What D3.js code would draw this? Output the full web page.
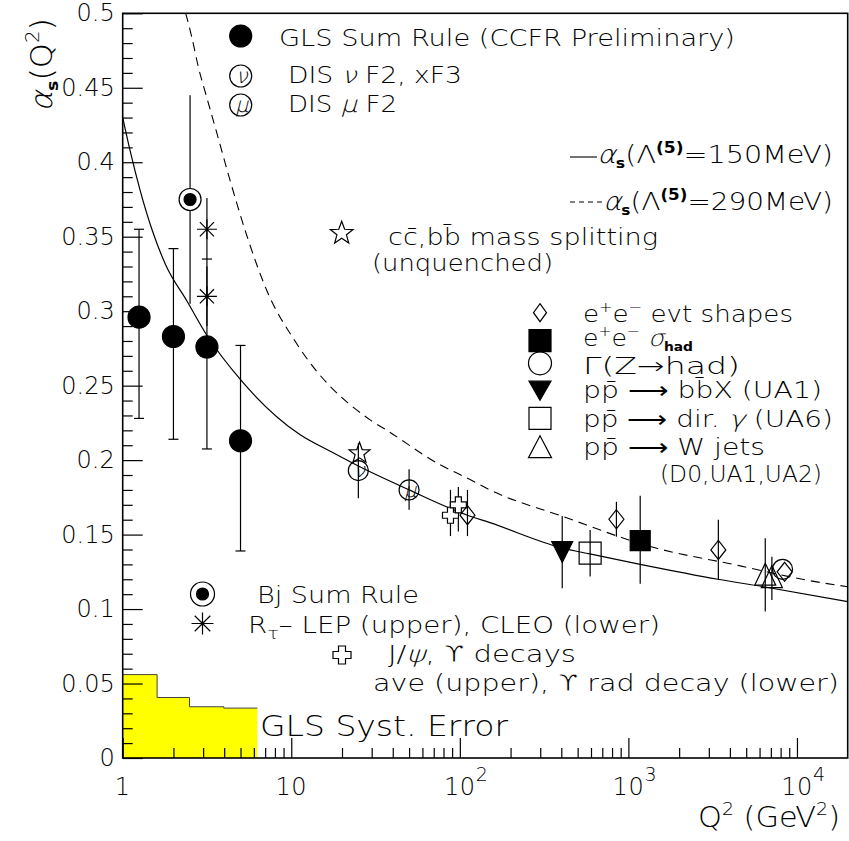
<!DOCTYPE html>
<html><head><meta charset="utf-8">
<script src="https://cdn.jsdelivr.net/npm/d3@7"></script>
<style>body{margin:0;background:#fff} text{font-family:"DejaVu Sans",sans-serif;font-weight:300;fill:#000}
.gr{font-family:"DejaVu Sans Light","DejaVu Sans",sans-serif;font-weight:300}
.up{font-family:"DejaVu Sans",sans-serif;font-weight:400;stroke:#fff;stroke-width:0.8px}</style>
</head><body><svg id="c" width="849" height="841"></svg>
<script>
// ---------- data ----------
const yMajor = [0,0.05,0.1,0.15,0.2,0.25,0.3,0.35,0.4,0.45,0.5];
const yLabels = ["0","0.05","0.1","0.15","0.2","0.25","0.3","0.35","0.4","0.45","0.5"];
const xMajor = [1,10,100,1000,10000];
const xLabelBase = ["1","10","10","10","10"];
const xLabelExp = ["","","2","3","4"];

// alpha_s curves
const solidQ2 = [1,1.1,1.27,1.5,1.8,2.4,3.15,5,11.3,17,25,50,111,151,405,590,1175,3400,6340,20000];
const solidAlpha = [0.430,0.409,0.381,0.354,0.331,0.307,0.284,0.254,0.217,0.206,0.196,0.180,0.163,0.158,0.141,0.137,0.130,0.120,0.115,0.105];
const dashQ2 = [2.365,2.57,2.81,3.18,3.61,4.33,5.44,7.15,10.8,29.4,36.9,76,115,151,412,1347,4609,12000,20000];
const dashAlpha = [0.500,0.484,0.464,0.442,0.420,0.388,0.351,0.314,0.278,0.227,0.220,0.197,0.187,0.180,0.162,0.142,0.129,0.119,0.115];

// GLS systematic error histogram
const systEdges = [1,1.6,2.49,3.98,6.29];
const systVals = [0.056,0.0406,0.0344,0.0335];

// GLS sum rule (CCFR preliminary)
const glsQ2 = [1.25,2.0,3.16,5.0];
const glsAlpha = [0.296,0.283,0.276,0.213];
const glsLo = [0.228,0.214,0.2075,0.139];
const glsHi = [0.355,0.342,0.335,0.277];
// Bj sum rule
const bjQ2 = [2.51], bjAlpha = [0.375], bjLo = [0.305], bjHi = [0.445];
// R_tau LEP (upper), CLEO (lower)
const tauQ2 = [3.16,3.16], tauAlpha = [0.355,0.310], tauLo = [0.335,0.290], tauHi = [0.376,0.330];
// cc, bb mass splitting
const starQ2 = [25.4], starAlpha = [0.2046];
// DIS nu
const nuQ2 = [25], nuAlpha = [0.193], nuLo = [0.1744], nuHi = [0.2113];
// DIS mu
const muQ2 = [50], muAlpha = [0.180], muLo = [0.1666], muHi = [0.1939];
// J/psi, Upsilon decays
const crossQ2 = [88,98], crossAlpha = [0.163,0.170], crossLo = [0.149,0.152], crossHi = [0.180,0.182];
// e+e- event shapes
const evtQ2 = [111,849,3417,8450], evtAlpha = [0.163,0.1603,0.1397,0.125], evtLo = [0.149,0.1486,0.120,0.125], evtHi = [0.180,0.172,0.160,0.125];
// e+e- sigma_had
const sigQ2 = [1175], sigAlpha = [0.146], sigLo = [0.117], sigHi = [0.176];
// Gamma(Z -> had)
const zQ2 = [8212], zAlpha = [0.1267];
// ppbar -> bbX (UA1)
const bbQ2 = [405], bbAlpha = [0.1383], bbLo = [0.114], bbHi = [0.1625];
// ppbar -> dir gamma (UA6)
const gamQ2 = [593], gamAlpha = [0.1375], gamLo = [0.1218], gamHi = [0.1531];
// ppbar -> W jets
const wQ2 = [6485,7100], wAlpha = [0.1234,0.1218], wLo = [0.0983,0.1061], wHi = [0.1476,0.1352];

// ---------- drawing ----------
const svg = d3.select("#c");
const x = d3.scaleLog().domain([1,2e4]).range([122.7,847.7]);
const y = d3.scaleLinear().domain([0,0.5]).range([758,13.3]);
const X0 = x.range()[0], X1 = x.range()[1], Y0 = y.range()[0], Y1 = y.range()[1];

svg.append("rect").attr("width",849).attr("height",841).attr("fill","#fff");
svg.append("clipPath").attr("id","plot").append("rect")
  .attr("x",X0).attr("y",Y1).attr("width",X1-X0).attr("height",Y0-Y1);

// yellow histogram
const syst = systEdges.map((e,i)=>[e, systVals[Math.min(i,systVals.length-1)]]);
svg.append("path").datum(syst)
  .attr("d", d3.area().x(d=>x(d[0])).y0(y(0)).y1(d=>y(d[1])).curve(d3.curveStepAfter))
  .attr("fill","#ffff00");
svg.append("path").datum(syst)
  .attr("d", d3.line().x(d=>x(d[0])).y(d=>y(d[1])).curve(d3.curveStepAfter))
  .attr("fill","none").attr("stroke","#444").attr("stroke-width",1);

// curves
const curveG = svg.append("g").attr("clip-path","url(#plot)");
const lineGen = d3.line().x(d=>x(d[0])).y(d=>y(d[1])).curve(d3.curveMonotoneX);
curveG.append("path").datum(solidQ2.map((q,i)=>[q,solidAlpha[i]]))
  .attr("d",lineGen).attr("fill","none").attr("stroke","#000").attr("stroke-width",1.2);
curveG.append("path").datum(dashQ2.map((q,i)=>[q,dashAlpha[i]]))
  .attr("d",lineGen).attr("fill","none").attr("stroke","#000").attr("stroke-width",1.1)
  .attr("stroke-dasharray","9,6");

// marker paths
const diamondP = (hw,hh)=>`M0,${-hh}L${hw},0L0,${hh}L${-hw},0Z`;
const squareP = s=>`M${-s/2},${-s/2}h${s}v${s}h${-s}Z`;
const triUpP = (w,h)=>`M0,${-h/2}L${w/2},${h/2}L${-w/2},${h/2}Z`;
const triDownP = (w,h)=>`M0,${h/2}L${w/2},${-h/2}L${-w/2},${-h/2}Z`;
const crossP = (a,b)=>`M${-b},${-a}H${b}V${-b}H${a}V${b}H${b}V${a}H${-b}V${b}H${-a}V${-b}H${-b}Z`;
function starP(R,r){let p=[];for(let k=0;k<10;k++){const ang=-Math.PI/2+k*Math.PI/5;const rr=k%2?r:R;p.push([rr*Math.cos(ang),rr*Math.sin(ang)]);}return "M"+p.map(d=>d.join(",")).join("L")+"Z";}
const asterP = a=>{const d=a*0.7071;return `M${-a},0H${a}M0,${-a}V${a}M${-d},${-d}L${d},${d}M${-d},${d}L${d},${-d}`;};

const G = svg.append("g");
function errbars(qs,lo,hi,cap){
  qs.forEach((q,i)=>{
    if(lo[i]===hi[i]) return;
    G.append("line").attr("x1",x(q)).attr("x2",x(q)).attr("y1",y(lo[i])).attr("y2",y(hi[i]))
      .attr("stroke","#000").attr("stroke-width",1.2);
    if(cap){[lo[i],hi[i]].forEach(v=>G.append("line").attr("x1",x(q)-cap).attr("x2",x(q)+cap)
      .attr("y1",y(v)).attr("y2",y(v)).attr("stroke","#000").attr("stroke-width",1.2));}
  });
}
function sym(g,px,py,d,fill){
  return g.append("path").attr("d",d).attr("transform",`translate(${px},${py})`)
    .attr("fill",fill?"#000":"#fff").attr("stroke","#000").attr("stroke-width",1.2);
}
function circ(g,px,py,r,fill){
  return g.append("circle").attr("cx",px).attr("cy",py).attr("r",r)
    .attr("fill",fill?"#000":"#fff").attr("stroke","#000").attr("stroke-width",1.2);
}
function letterCirc(g,px,py,r,ch,fs){
  circ(g,px,py,r,false).attr("fill","none");
  g.append("text").attr("class","gr").attr("x",px+1).attr("y",py).attr("dy","0.33em").attr("text-anchor","middle")
    .attr("font-size",fs).attr("font-style","italic").text(ch);
}
function bjSym(g,px,py,R,r){ circ(g,px,py,R,false); circ(g,px,py,r,true); }
function aster(g,px,py,a){ g.append("path").attr("d",asterP(a)).attr("transform",`translate(${px},${py})`)
  .attr("fill","none").attr("stroke","#000").attr("stroke-width",1.2); }

// error bars
errbars(glsQ2,glsLo,glsHi,5);
errbars(bjQ2,bjLo,bjHi,0);
errbars(tauQ2,tauLo,tauHi,0);
errbars(nuQ2,nuLo,nuHi,0);
errbars(muQ2,muLo,muHi,0);
errbars(crossQ2,crossLo,crossHi,0);
errbars(evtQ2,evtLo,evtHi,0);
errbars(sigQ2,sigLo,sigHi,0);
errbars(bbQ2,bbLo,bbHi,0);
errbars(gamQ2,gamLo,gamHi,0);
errbars(wQ2,wLo,wHi,0);

// markers
glsQ2.forEach((q,i)=>circ(G,x(q),y(glsAlpha[i]),11,true));
bjQ2.forEach((q,i)=>bjSym(G,x(q),y(bjAlpha[i]),11,6));
tauQ2.forEach((q,i)=>aster(G,x(q),y(tauAlpha[i]),10));
starQ2.forEach((q,i)=>sym(G,x(q),y(starAlpha[i]),starP(11,4.6),false).attr("fill","none"));
nuQ2.forEach((q,i)=>letterCirc(G,x(q),y(nuAlpha[i]),10,"ν",20));
muQ2.forEach((q,i)=>letterCirc(G,x(q),y(muAlpha[i]),10,"μ",20));
crossQ2.forEach((q,i)=>sym(G,x(q),y(crossAlpha[i]),crossP(8,3),false));
zQ2.forEach((q,i)=>circ(G,x(q),y(zAlpha[i]),10,false).attr("fill","none"));
evtQ2.forEach((q,i)=>sym(G,x(q),y(evtAlpha[i]),diamondP(7.5,9.5),false).attr("fill","none"));
sigQ2.forEach((q,i)=>sym(G,x(q),y(sigAlpha[i]),squareP(20),true));
bbQ2.forEach((q,i)=>sym(G,x(q),y(bbAlpha[i]),triDownP(21,21),true));
gamQ2.forEach((q,i)=>sym(G,x(q),y(gamAlpha[i]),squareP(22),false).attr("fill","none"));
wQ2.forEach((q,i)=>sym(G,x(q),y(wAlpha[i]),triUpP(21,22),false).attr("fill","none"));

// ---------- axes ----------
const yMinor = d3.range(0,51).map(k=>k/100).filter(v=>Math.round(v*100)%5!==0);
const xMinor = [];
[1,10,100,1000,10000].forEach(dec=>{for(let m=2;m<=9;m++){if(dec*m<2e4) xMinor.push(dec*m);}});

const ax = svg.append("g");
ax.append("g").attr("transform",`translate(${X0},0)`)
  .call(d3.axisLeft(y).tickValues(yMajor).tickSize(-20).tickPadding(8).tickFormat((d,i)=>yLabels[i]))
  .call(g=>g.select(".domain").remove())
  .call(g=>g.selectAll("line").attr("stroke","#000").attr("stroke-width",1.2))
  .call(g=>g.selectAll("text").attr("font-size",24).attr("font-family","DejaVu Sans").attr("font-weight",300).attr("fill","#000"));
ax.append("g").attr("transform",`translate(${X0},0)`)
  .call(d3.axisLeft(y).tickValues(yMinor).tickSize(-10).tickFormat(""))
  .call(g=>g.select(".domain").remove())
  .call(g=>g.selectAll("line").attr("stroke","#000").attr("stroke-width",1.2));
ax.append("g").attr("transform",`translate(0,${Y0})`)
  .call(d3.axisBottom(x).tickValues(xMajor).tickSize(-20).tickFormat(""))
  .call(g=>g.select(".domain").remove())
  .call(g=>g.selectAll("line").attr("stroke","#000").attr("stroke-width",1.2));
ax.append("g").attr("transform",`translate(0,${Y0})`)
  .call(d3.axisBottom(x).tickValues(xMinor).tickSize(-10).tickFormat(""))
  .call(g=>g.select(".domain").remove())
  .call(g=>g.selectAll("line").attr("stroke","#000").attr("stroke-width",1.2));

// x tick labels
xMajor.forEach((v,i)=>{
  ax.append("text").attr("x",x(v)).attr("y",795).attr("text-anchor","middle")
    .attr("font-size",24).attr("letter-spacing",0.5).text(xLabelBase[i]);
  if(xLabelExp[i]) ax.append("text").attr("x",x(v)+16).attr("y",781)
    .attr("font-size",19).text(xLabelExp[i]);
});

// frame
svg.append("rect").attr("x",X0).attr("y",Y1).attr("width",X1-X0).attr("height",Y0-Y1)
  .attr("fill","none").attr("stroke","#000").attr("stroke-width",1.6);

// ---------- texts ----------
function rich(px,py,parts,fs,len){
  const t = svg.append("text").attr("x",px).attr("y",py).attr("font-size",fs);
  let shift=0;
  parts.forEach(p=>{
    const [s,kind,it] = p;
    let target=0, size=fs, weight=null;
    if(kind==="sub"){target=fs*0.2; size=fs*0.55; weight="bold";}
    else if(kind==="subn"){target=fs*0.28; size=fs*0.7;}
    else if(kind==="sup"){target=-fs*0.42; size=fs*0.62;}
    else if(kind==="supb"){target=-fs*0.42; size=fs*0.6; weight="bold";}
    const ts = t.append("tspan").attr("dy",target-shift).attr("font-size",size).text(s);
    if(weight) ts.attr("font-weight",weight);
    if(it===1) ts.attr("class","gr").attr("font-style","italic");
    if(it===2) ts.attr("class","up");
    shift=target;
  });
  if(len) t.attr("textLength",len).attr("lengthAdjust","spacingAndGlyphs");
  return t;
}
const L = svg.append("g");
// top-left legend
circ(L,240.7,36,11,true);
rich(279,46,[["GLS Sum Rule (CCFR Preliminary)"]],23,456);
letterCirc(L,240.7,76,11,"ν",21);
rich(288,83,[["DIS "],["ν","",1],[" F2, xF3"]],23,174);
letterCirc(L,240.7,105,11,"μ",21);
rich(288,112,[["DIS "],["μ","",1],[" F2"]],23,109);
sym(L,341.7,233.3,starP(12,5),false).attr("fill","none");
rich(388,245,[["cc̄,bb̄ mass splitting"]],23,270);
rich(372,271,[["(unquenched)"]],23,181);

// curve legend
L.append("line").attr("x1",570).attr("x2",597).attr("y1",157).attr("y2",157).attr("stroke","#000").attr("stroke-width",1.1);
rich(597,163,[["α","",1],["s","sub"],["(Λ"],["(5)","supb"],["=150MeV)"]],25,236);
L.append("line").attr("x1",570).attr("x2",602).attr("y1",202).attr("y2",202).attr("stroke","#000").attr("stroke-width",1.1).attr("stroke-dasharray","5,4");
rich(603,210,[["α","",1],["s","sub"],["(Λ"],["(5)","supb"],["=290MeV)"]],25,230);

// right legend
sym(L,540,312.7,diamondP(6.5,9),false).attr("fill","none");
rich(583,322,[["e"],["+","sup"],["e"],["−","sup"],[" evt shapes"]],23,210);
sym(L,540,340.7,squareP(22),true);
rich(583,346,[["e"],["+","sup"],["e"],["−","sup"],[" "],["σ","",1],["had","sub"]],23,110);
circ(L,540,363.3,11.5,false).attr("fill","none");
rich(583,373.5,[["Γ(Z→had)"]],23,157);
sym(L,540,390.7,triDownP(22,19),true);
rich(583,398,[["pp̄ ⟶ bb̄X (UA1)"]],23,239);
sym(L,540,418.3,squareP(22),false).attr("fill","none");
rich(583,427,[["pp̄ ⟶ dir. "],["γ","",1],[" (UA6)"]],23,250);
sym(L,540,446.7,triUpP(23,22),false).attr("fill","none");
rich(583,455,[["pp̄ ⟶ W jets"]],23,182);
rich(660,482,[["(D0,UA1,UA2)"]],23,162);

// bottom legend
bjSym(L,202.5,594,12,6);
rich(257,603,[["Bj Sum Rule"]],23,162);
aster(L,202.5,623.5,11);
rich(248,633,[["R"],["τ","subn"],["– LEP (upper), CLEO (lower)"]],23,412);
sym(L,342,655,crossP(9,3.5),false);
rich(388,662,[["J/"],["ψ","",1],[", "],["ϒ","",2],[" decays"]],23,188);
rich(373,691,[["ave (upper), "],["ϒ","",2],[" rad decay (lower)"]],23,466);
rich(260,736,[["GLS Syst. Error"]],29,248);

// axis titles
rich(698,827,[["Q"],["2","sup"],[" (GeV"],["2","sup"],[")"]],29,142);
rich(0,0,[["α","",1],["s","sub"],["(Q"],["2","sup"],[")"]],30,94)
  .attr("transform","translate(52,112) rotate(-90)");
</script></body></html>
